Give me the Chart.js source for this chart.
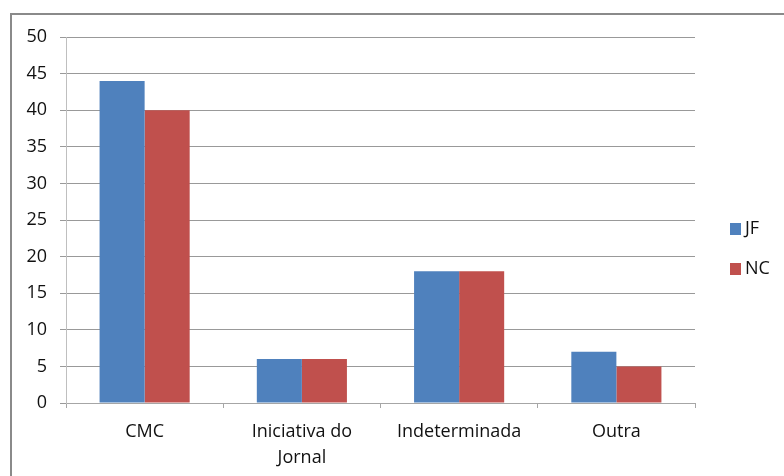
<!DOCTYPE html>
<html lang="pt">
<head>
<meta charset="UTF-8">
<title>JF x NC</title>
<script src="https://cdn.jsdelivr.net/npm/chart.js"></script>
<style>
  html,body{margin:0;padding:0;background:#fff;overflow:hidden;}
  #wrap{position:relative;width:784px;height:476px;}
  #frame{position:absolute;left:10px;top:13px;width:800px;height:500px;border:2px solid #8a8a8a;box-sizing:border-box;}
  canvas{position:absolute;left:0;top:0;}
</style>
</head>
<body>
<div id="wrap">
  <div id="frame"></div>
  <canvas id="c" width="784" height="476"></canvas>
</div>
<script>
/* dados */
const categorias = ['CMC', ['Iniciativa do', 'Jornal'], 'Indeterminada', 'Outra'];
const serieJF = [44, 6, 18, 7];
const serieNC = [40, 6, 18, 5];
const nomesSeries = ['JF', 'NC'];
const coresSeries = ['#4F81BD', '#C0504D'];

const FONTE = '"Open Sans", "Noto Sans", sans-serif';

/* legenda à direita, estilo Excel */
const legendaExcel = {
  id: 'legendaExcel',
  afterDraw(chart){
    const ctx = chart.ctx;
    ctx.save();
    ctx.font = '18px ' + FONTE;
    ctx.textBaseline = 'middle';
    chart.data.datasets.forEach((ds, i) => {
      const y = 229 + i * 40;
      ctx.fillStyle = ds.backgroundColor;
      ctx.fillRect(730, y - 6, 11, 12);
      ctx.fillStyle = '#111';
      ctx.fillText(ds.label, 745, y);
    });
    ctx.restore();
  }
};

new Chart(document.getElementById('c'), {
  type: 'bar',
  data: {
    labels: categorias,
    datasets: [
      {label: nomesSeries[0], data: serieJF, backgroundColor: coresSeries[0]},
      {label: nomesSeries[1], data: serieNC, backgroundColor: coresSeries[1]}
    ]
  },
  options: {
    responsive: false,
    animation: false,
    layout: {padding: {top: 37, right: 89, bottom: 0, left: 0}},
    datasets: {bar: {categoryPercentage: 0.573, barPercentage: 1}},
    plugins: {legend: {display: false}, tooltip: {enabled: false}},
    scales: {
      x: {
        afterFit: s => { s.height = 73; },
        grid: {offset: true, drawOnChartArea: false, drawTicks: true, tickLength: 5, color: '#a6a6a6'},
        border: {color: '#a6a6a6'},
        ticks: {color: '#111', font: {family: FONTE, size: 18, lineHeight: 1.45}, padding: 11, maxRotation: 0}
      },
      y: {
        min: 0, max: 50,
        afterFit: s => { s.width = 66; },
        grid: {color: '#999', tickLength: 6, drawTicks: true},
        border: {color: '#bfbfbf'},
        ticks: {stepSize: 5, color: '#111', font: {family: FONTE, size: 18}, padding: 13}
      }
    }
  },
  plugins: [legendaExcel]
});
</script>
</body>
</html>
